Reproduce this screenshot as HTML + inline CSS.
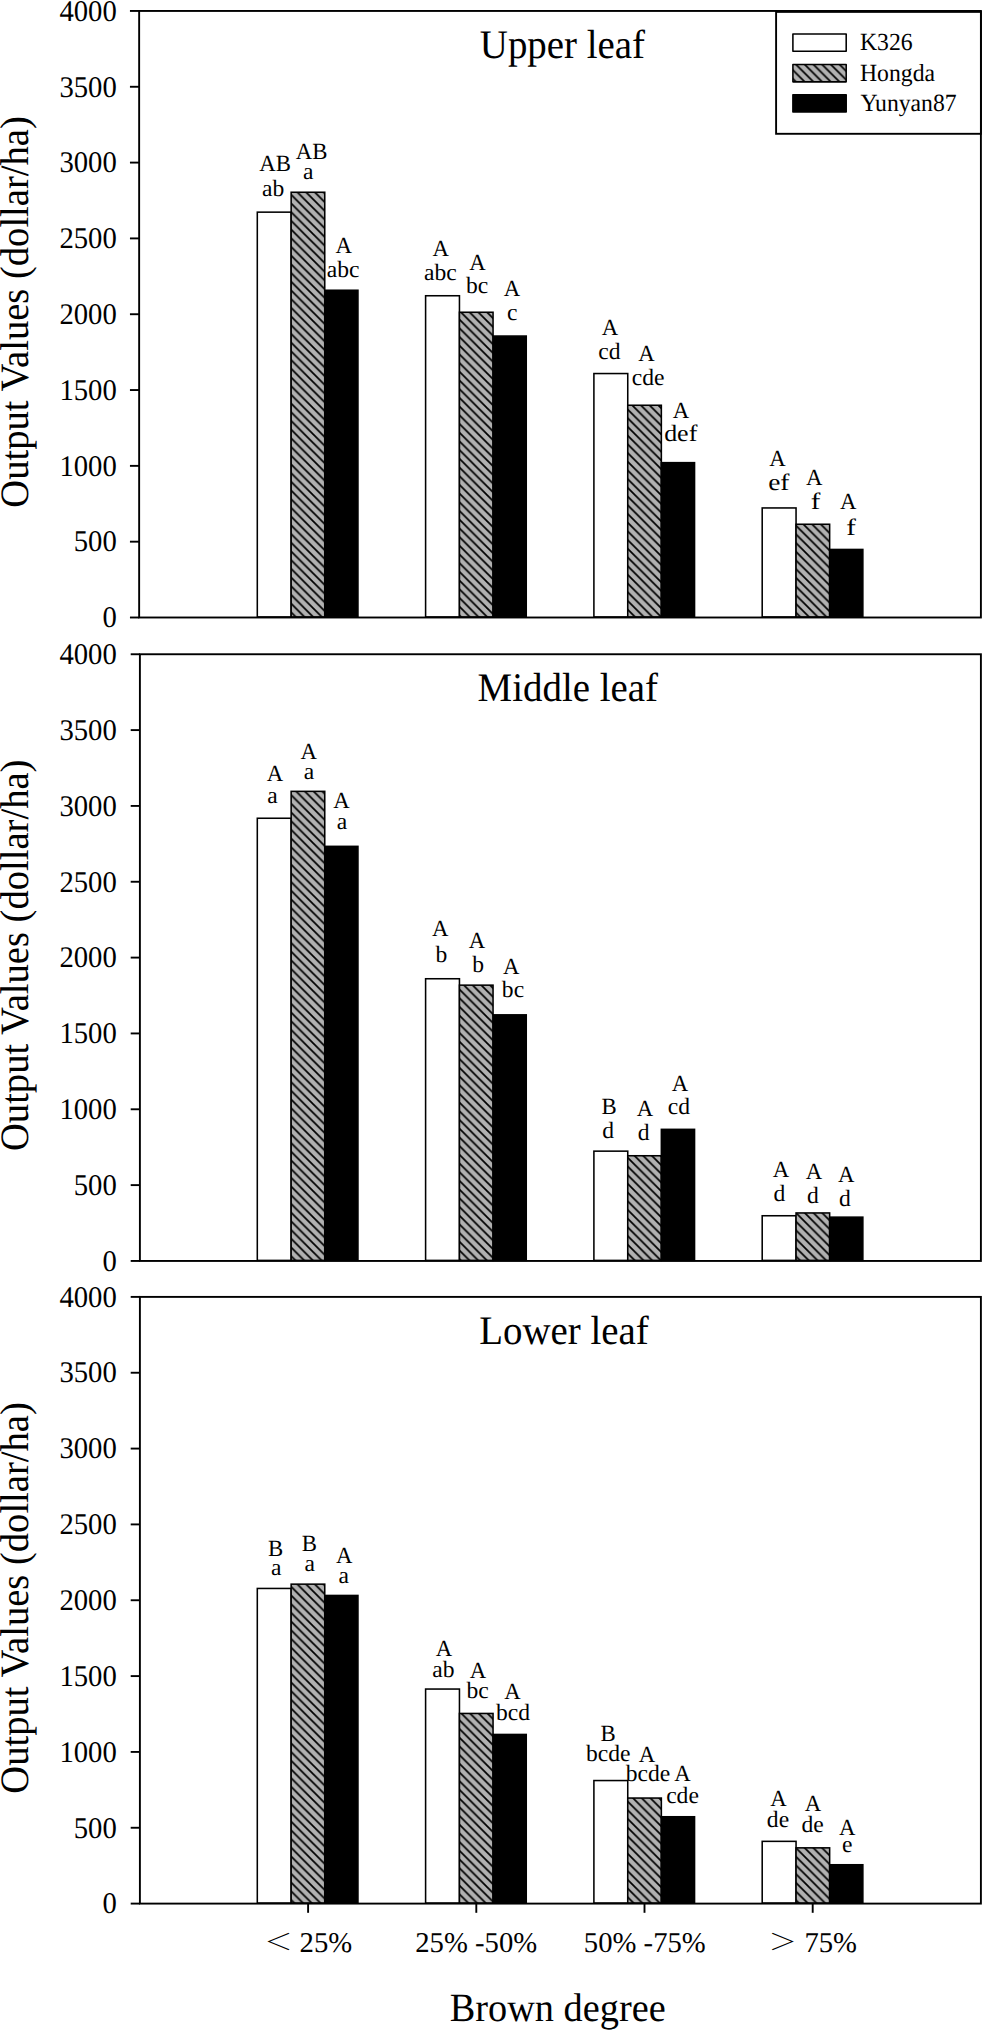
<!DOCTYPE html>
<html lang="en"><head><meta charset="utf-8"><title>Output values by brown degree</title>
<style>html,body{margin:0;padding:0;background:#fff}svg{display:block}text{font-family:"Liberation Serif","Noto Serif CJK SC",serif;fill:#000;text-rendering:geometricPrecision}.tk{font-size:28.7px;text-anchor:end}.xk{font-size:28.7px}.xm{font-size:28.7px;text-anchor:middle}.tt{font-size:38.9px}.yl{font-size:38.6px;text-anchor:middle}.xl{font-size:38.3px;text-anchor:middle}.up{font-size:22.8px;text-anchor:middle}.lo{font-size:23.6px;text-anchor:middle}.lg{font-size:23.7px}.ln{stroke:#000;stroke-width:1.9;fill:none}.br{stroke:#000;stroke-width:1.55}</style></head><body>
<svg width="983" height="2030" viewBox="0 0 983 2030">
<defs><pattern id="h" patternUnits="userSpaceOnUse" width="8.7" height="8.7" patternTransform="translate(0.75 0)"><rect width="8.7" height="8.7" fill="#b1b1b1"/><path d="M-2.175 -2.175L10.875 10.875M-2.175 6.525L2.175 10.875M6.525 -2.175L10.875 2.175" stroke="#000" stroke-width="1.75" stroke-linecap="square"/></pattern></defs>
<rect width="983" height="2030" fill="#fff"/>
<g>
<rect class="br" x="257.30" y="212.15" width="33.85" height="404.80" fill="#fff"/>
<rect class="br" x="291.15" y="192.25" width="33.60" height="424.70" fill="url(#h)"/>
<rect class="br" x="324.75" y="290.25" width="33.20" height="326.70" fill="#000"/>
<rect class="br" x="425.60" y="295.75" width="33.85" height="321.20" fill="#fff"/>
<rect class="br" x="459.45" y="312.25" width="33.60" height="304.70" fill="url(#h)"/>
<rect class="br" x="493.05" y="336.05" width="33.20" height="280.90" fill="#000"/>
<rect class="br" x="593.90" y="373.55" width="33.85" height="243.40" fill="#fff"/>
<rect class="br" x="627.75" y="405.25" width="33.60" height="211.70" fill="url(#h)"/>
<rect class="br" x="661.35" y="462.65" width="33.20" height="154.30" fill="#000"/>
<rect class="br" x="762.20" y="507.95" width="33.85" height="109.00" fill="#fff"/>
<rect class="br" x="796.05" y="524.25" width="33.60" height="92.70" fill="url(#h)"/>
<rect class="br" x="829.65" y="549.45" width="33.20" height="67.50" fill="#000"/>
<rect class="ln" x="139.15" y="10.95" width="841.75" height="606.55"/>
<line class="ln" x1="129.95" y1="617.50" x2="139.15" y2="617.50"/>
<text class="tk" transform="translate(116.80 627.25) scale(1 1.045)">0</text>
<line class="ln" x1="129.95" y1="541.68" x2="139.15" y2="541.68"/>
<text class="tk" transform="translate(116.80 551.43) scale(1 1.045)">500</text>
<line class="ln" x1="129.95" y1="465.86" x2="139.15" y2="465.86"/>
<text class="tk" transform="translate(116.80 475.61) scale(1 1.045)">1000</text>
<line class="ln" x1="129.95" y1="390.04" x2="139.15" y2="390.04"/>
<text class="tk" transform="translate(116.80 399.79) scale(1 1.045)">1500</text>
<line class="ln" x1="129.95" y1="314.23" x2="139.15" y2="314.23"/>
<text class="tk" transform="translate(116.80 323.98) scale(1 1.045)">2000</text>
<line class="ln" x1="129.95" y1="238.41" x2="139.15" y2="238.41"/>
<text class="tk" transform="translate(116.80 248.16) scale(1 1.045)">2500</text>
<line class="ln" x1="129.95" y1="162.59" x2="139.15" y2="162.59"/>
<text class="tk" transform="translate(116.80 172.34) scale(1 1.045)">3000</text>
<line class="ln" x1="129.95" y1="86.77" x2="139.15" y2="86.77"/>
<text class="tk" transform="translate(116.80 96.52) scale(1 1.045)">3500</text>
<line class="ln" x1="129.95" y1="10.95" x2="139.15" y2="10.95"/>
<text class="tk" transform="translate(116.80 20.70) scale(1 1.045)">4000</text>
<text class="yl" transform="translate(27.90 311.93) rotate(-90) scale(1 1.045)">Output Values (dollar/ha)</text>
<text class="tt" transform="translate(479.80 57.90) scale(1 1.045)">Upper leaf</text>
</g>
<g>
<rect class="br" x="257.30" y="818.25" width="33.85" height="442.15" fill="#fff"/>
<rect class="br" x="291.15" y="791.35" width="33.60" height="469.05" fill="url(#h)"/>
<rect class="br" x="324.75" y="846.35" width="33.20" height="414.05" fill="#000"/>
<rect class="br" x="425.60" y="978.75" width="33.85" height="281.65" fill="#fff"/>
<rect class="br" x="459.45" y="985.15" width="33.60" height="275.25" fill="url(#h)"/>
<rect class="br" x="493.05" y="1014.85" width="33.20" height="245.55" fill="#000"/>
<rect class="br" x="593.90" y="1151.15" width="33.85" height="109.25" fill="#fff"/>
<rect class="br" x="627.75" y="1155.75" width="33.60" height="104.65" fill="url(#h)"/>
<rect class="br" x="661.35" y="1129.35" width="33.20" height="131.05" fill="#000"/>
<rect class="br" x="762.20" y="1215.75" width="33.85" height="44.65" fill="#fff"/>
<rect class="br" x="796.05" y="1212.95" width="33.60" height="47.45" fill="url(#h)"/>
<rect class="br" x="829.65" y="1217.15" width="33.20" height="43.25" fill="#000"/>
<rect class="ln" x="139.90" y="654.25" width="841.00" height="606.70"/>
<line class="ln" x1="130.70" y1="1260.95" x2="139.90" y2="1260.95"/>
<text class="tk" transform="translate(116.80 1270.70) scale(1 1.045)">0</text>
<line class="ln" x1="130.70" y1="1185.11" x2="139.90" y2="1185.11"/>
<text class="tk" transform="translate(116.80 1194.86) scale(1 1.045)">500</text>
<line class="ln" x1="130.70" y1="1109.28" x2="139.90" y2="1109.28"/>
<text class="tk" transform="translate(116.80 1119.03) scale(1 1.045)">1000</text>
<line class="ln" x1="130.70" y1="1033.44" x2="139.90" y2="1033.44"/>
<text class="tk" transform="translate(116.80 1043.19) scale(1 1.045)">1500</text>
<line class="ln" x1="130.70" y1="957.60" x2="139.90" y2="957.60"/>
<text class="tk" transform="translate(116.80 967.35) scale(1 1.045)">2000</text>
<line class="ln" x1="130.70" y1="881.76" x2="139.90" y2="881.76"/>
<text class="tk" transform="translate(116.80 891.51) scale(1 1.045)">2500</text>
<line class="ln" x1="130.70" y1="805.92" x2="139.90" y2="805.92"/>
<text class="tk" transform="translate(116.80 815.67) scale(1 1.045)">3000</text>
<line class="ln" x1="130.70" y1="730.09" x2="139.90" y2="730.09"/>
<text class="tk" transform="translate(116.80 739.84) scale(1 1.045)">3500</text>
<line class="ln" x1="130.70" y1="654.25" x2="139.90" y2="654.25"/>
<text class="tk" transform="translate(116.80 664.00) scale(1 1.045)">4000</text>
<text class="yl" transform="translate(27.90 955.30) rotate(-90) scale(1 1.045)">Output Values (dollar/ha)</text>
<text class="tt" transform="translate(477.60 701.30) scale(1 1.045)">Middle leaf</text>
</g>
<g>
<rect class="br" x="257.30" y="1588.45" width="33.85" height="314.60" fill="#fff"/>
<rect class="br" x="291.15" y="1584.15" width="33.60" height="318.90" fill="url(#h)"/>
<rect class="br" x="324.75" y="1595.45" width="33.20" height="307.60" fill="#000"/>
<rect class="br" x="425.60" y="1689.05" width="33.85" height="214.00" fill="#fff"/>
<rect class="br" x="459.45" y="1713.45" width="33.60" height="189.60" fill="url(#h)"/>
<rect class="br" x="493.05" y="1734.45" width="33.20" height="168.60" fill="#000"/>
<rect class="br" x="593.90" y="1780.55" width="33.85" height="122.50" fill="#fff"/>
<rect class="br" x="627.75" y="1798.05" width="33.60" height="105.00" fill="url(#h)"/>
<rect class="br" x="661.35" y="1816.75" width="33.20" height="86.30" fill="#000"/>
<rect class="br" x="762.20" y="1841.35" width="33.85" height="61.70" fill="#fff"/>
<rect class="br" x="796.05" y="1847.85" width="33.60" height="55.20" fill="url(#h)"/>
<rect class="br" x="829.65" y="1864.75" width="33.20" height="38.30" fill="#000"/>
<rect class="ln" x="139.90" y="1296.90" width="841.00" height="606.70"/>
<line class="ln" x1="130.70" y1="1903.60" x2="139.90" y2="1903.60"/>
<text class="tk" transform="translate(116.80 1913.35) scale(1 1.045)">0</text>
<line class="ln" x1="130.70" y1="1827.76" x2="139.90" y2="1827.76"/>
<text class="tk" transform="translate(116.80 1837.51) scale(1 1.045)">500</text>
<line class="ln" x1="130.70" y1="1751.92" x2="139.90" y2="1751.92"/>
<text class="tk" transform="translate(116.80 1761.67) scale(1 1.045)">1000</text>
<line class="ln" x1="130.70" y1="1676.09" x2="139.90" y2="1676.09"/>
<text class="tk" transform="translate(116.80 1685.84) scale(1 1.045)">1500</text>
<line class="ln" x1="130.70" y1="1600.25" x2="139.90" y2="1600.25"/>
<text class="tk" transform="translate(116.80 1610.00) scale(1 1.045)">2000</text>
<line class="ln" x1="130.70" y1="1524.41" x2="139.90" y2="1524.41"/>
<text class="tk" transform="translate(116.80 1534.16) scale(1 1.045)">2500</text>
<line class="ln" x1="130.70" y1="1448.58" x2="139.90" y2="1448.58"/>
<text class="tk" transform="translate(116.80 1458.33) scale(1 1.045)">3000</text>
<line class="ln" x1="130.70" y1="1372.74" x2="139.90" y2="1372.74"/>
<text class="tk" transform="translate(116.80 1382.49) scale(1 1.045)">3500</text>
<line class="ln" x1="130.70" y1="1296.90" x2="139.90" y2="1296.90"/>
<text class="tk" transform="translate(116.80 1306.65) scale(1 1.045)">4000</text>
<text class="yl" transform="translate(27.90 1597.95) rotate(-90) scale(1 1.045)">Output Values (dollar/ha)</text>
<text class="tt" transform="translate(479.30 1344.30) scale(1 1.045)">Lower leaf</text>
</g>
<line class="ln" x1="308.10" y1="1903.60" x2="308.10" y2="1912.80"/>
<line class="ln" x1="476.30" y1="1903.60" x2="476.30" y2="1912.80"/>
<line class="ln" x1="644.50" y1="1903.60" x2="644.50" y2="1912.80"/>
<line class="ln" x1="812.70" y1="1903.60" x2="812.70" y2="1912.80"/>
<g>
<text class="xk" transform="translate(264.00 1949.80) scale(1 0.800)">＜</text>
<text class="xk" transform="translate(299.60 1951.60)">25%</text>
</g>
<text class="xm" transform="translate(476.20 1951.60)">25% -50%</text>
<text class="xm" transform="translate(644.80 1951.60)">50% -75%</text>
<g>
<text class="xk" transform="translate(768.50 1949.80) scale(1 0.800)">＞</text>
<text class="xk" transform="translate(804.40 1951.60)">75%</text>
</g>
<text class="xl" transform="translate(557.70 2020.50) scale(1 1.045)">Brown degree</text>
<text class="up" transform="translate(275.20 171.35) scale(1 1.020)">AB</text>
<text class="lo" transform="translate(273.20 195.80)">ab</text>
<text class="up" transform="translate(311.60 159.15) scale(1 1.020)">AB</text>
<text class="lo" transform="translate(308.30 179.00)">a</text>
<text class="up" transform="translate(343.80 253.25) scale(1 1.020)">A</text>
<text class="lo" transform="translate(343.20 276.70)">abc</text>
<text class="up" transform="translate(440.80 256.25) scale(1 1.020)">A</text>
<text class="lo" transform="translate(440.30 279.70)">abc</text>
<text class="up" transform="translate(477.40 270.45) scale(1 1.020)">A</text>
<text class="lo" transform="translate(477.10 293.40)">bc</text>
<text class="up" transform="translate(511.90 296.35) scale(1 1.020)">A</text>
<text class="lo" transform="translate(512.20 320.10)">c</text>
<text class="up" transform="translate(610.00 335.15) scale(1 1.020)">A</text>
<text class="lo" transform="translate(609.30 358.90)">cd</text>
<text class="up" transform="translate(646.40 360.75) scale(1 1.020)">A</text>
<text class="lo" transform="translate(648.10 384.50)">cde</text>
<text class="up" transform="translate(681.00 417.65) scale(1 1.020)">A</text>
<text class="lo" transform="translate(680.70 441.40) scale(1.1 1.000)">def</text>
<text class="up" transform="translate(777.60 466.35) scale(1 1.020)">A</text>
<text class="lo" transform="translate(778.80 489.60) scale(1.16 1.000)">ef</text>
<text class="up" transform="translate(814.30 485.15) scale(1 1.020)">A</text>
<text class="lo" transform="translate(815.50 509.20) scale(1.22 1.000)">f</text>
<text class="up" transform="translate(848.20 508.65) scale(1 1.020)">A</text>
<text class="lo" transform="translate(851.10 534.80) scale(1.22 1.000)">f</text>
<text class="up" transform="translate(274.90 781.25) scale(1 1.020)">A</text>
<text class="lo" transform="translate(272.40 802.50)">a</text>
<text class="up" transform="translate(308.80 759.45) scale(1 1.020)">A</text>
<text class="lo" transform="translate(308.90 779.00)">a</text>
<text class="up" transform="translate(341.60 808.25) scale(1 1.020)">A</text>
<text class="lo" transform="translate(341.90 829.40)">a</text>
<text class="up" transform="translate(440.20 935.95) scale(1 1.020)">A</text>
<text class="lo" transform="translate(441.30 962.00)">b</text>
<text class="up" transform="translate(477.00 947.85) scale(1 1.020)">A</text>
<text class="lo" transform="translate(478.20 971.80)">b</text>
<text class="up" transform="translate(511.20 973.85) scale(1 1.020)">A</text>
<text class="lo" transform="translate(513.00 997.40)">bc</text>
<text class="up" transform="translate(609.00 1113.85) scale(1 1.020)">B</text>
<text class="lo" transform="translate(608.20 1137.60)">d</text>
<text class="up" transform="translate(644.90 1116.15) scale(1 1.020)">A</text>
<text class="lo" transform="translate(643.60 1139.90)">d</text>
<text class="up" transform="translate(680.10 1090.65) scale(1 1.020)">A</text>
<text class="lo" transform="translate(679.00 1114.40)">cd</text>
<text class="up" transform="translate(781.00 1177.15) scale(1 1.020)">A</text>
<text class="lo" transform="translate(779.50 1201.10)">d</text>
<text class="up" transform="translate(814.00 1178.75) scale(1 1.020)">A</text>
<text class="lo" transform="translate(812.80 1202.60)">d</text>
<text class="up" transform="translate(846.20 1182.05) scale(1 1.020)">A</text>
<text class="lo" transform="translate(845.00 1205.80)">d</text>
<text class="up" transform="translate(275.70 1556.25) scale(1 1.020)">B</text>
<text class="lo" transform="translate(276.20 1575.40)">a</text>
<text class="up" transform="translate(309.40 1551.25) scale(1 1.020)">B</text>
<text class="lo" transform="translate(309.80 1570.60)">a</text>
<text class="up" transform="translate(344.30 1563.15) scale(1 1.020)">A</text>
<text class="lo" transform="translate(343.80 1582.60)">a</text>
<text class="up" transform="translate(443.90 1655.95) scale(1 1.020)">A</text>
<text class="lo" transform="translate(443.30 1677.30)">ab</text>
<text class="up" transform="translate(478.10 1677.65) scale(1 1.020)">A</text>
<text class="lo" transform="translate(477.70 1698.30)">bc</text>
<text class="up" transform="translate(512.40 1698.55) scale(1 1.020)">A</text>
<text class="lo" transform="translate(513.00 1719.70)">bcd</text>
<text class="up" transform="translate(608.20 1740.95) scale(1 1.020)">B</text>
<text class="lo" transform="translate(608.20 1760.60)">bcde</text>
<text class="up" transform="translate(647.10 1761.95) scale(1 1.020)">A</text>
<text class="lo" transform="translate(647.90 1781.20)">bcde</text>
<text class="up" transform="translate(682.50 1781.35) scale(1 1.020)">A</text>
<text class="lo" transform="translate(682.50 1802.80)">cde</text>
<text class="up" transform="translate(778.40 1806.35) scale(1 1.020)">A</text>
<text class="lo" transform="translate(778.00 1827.00)">de</text>
<text class="up" transform="translate(813.10 1811.35) scale(1 1.020)">A</text>
<text class="lo" transform="translate(812.70 1832.40)">de</text>
<text class="up" transform="translate(847.20 1834.55) scale(1 1.020)">A</text>
<text class="lo" transform="translate(847.20 1851.50)">e</text>
<rect class="ln" x="776.1" y="11.9" width="204.8" height="121.9" fill="#fff" style="fill:#fff"/>
<rect class="br" x="792.9" y="34.00" width="53.3" height="17.3" fill="#fff" stroke-linejoin="round"/>
<text class="lg" transform="translate(860.00 50.30) scale(1 1.040)">K326</text>
<rect class="br" x="792.9" y="64.55" width="53.3" height="17.3" fill="url(#h)" stroke-linejoin="round"/>
<text class="lg" transform="translate(860.00 80.50) scale(1 1.040)">Hongda</text>
<rect class="br" x="792.9" y="94.70" width="53.3" height="17.3" fill="#000" stroke-linejoin="round"/>
<text class="lg" transform="translate(860.60 111.20) scale(1 1.040)">Yunyan87</text>
</svg></body></html>
